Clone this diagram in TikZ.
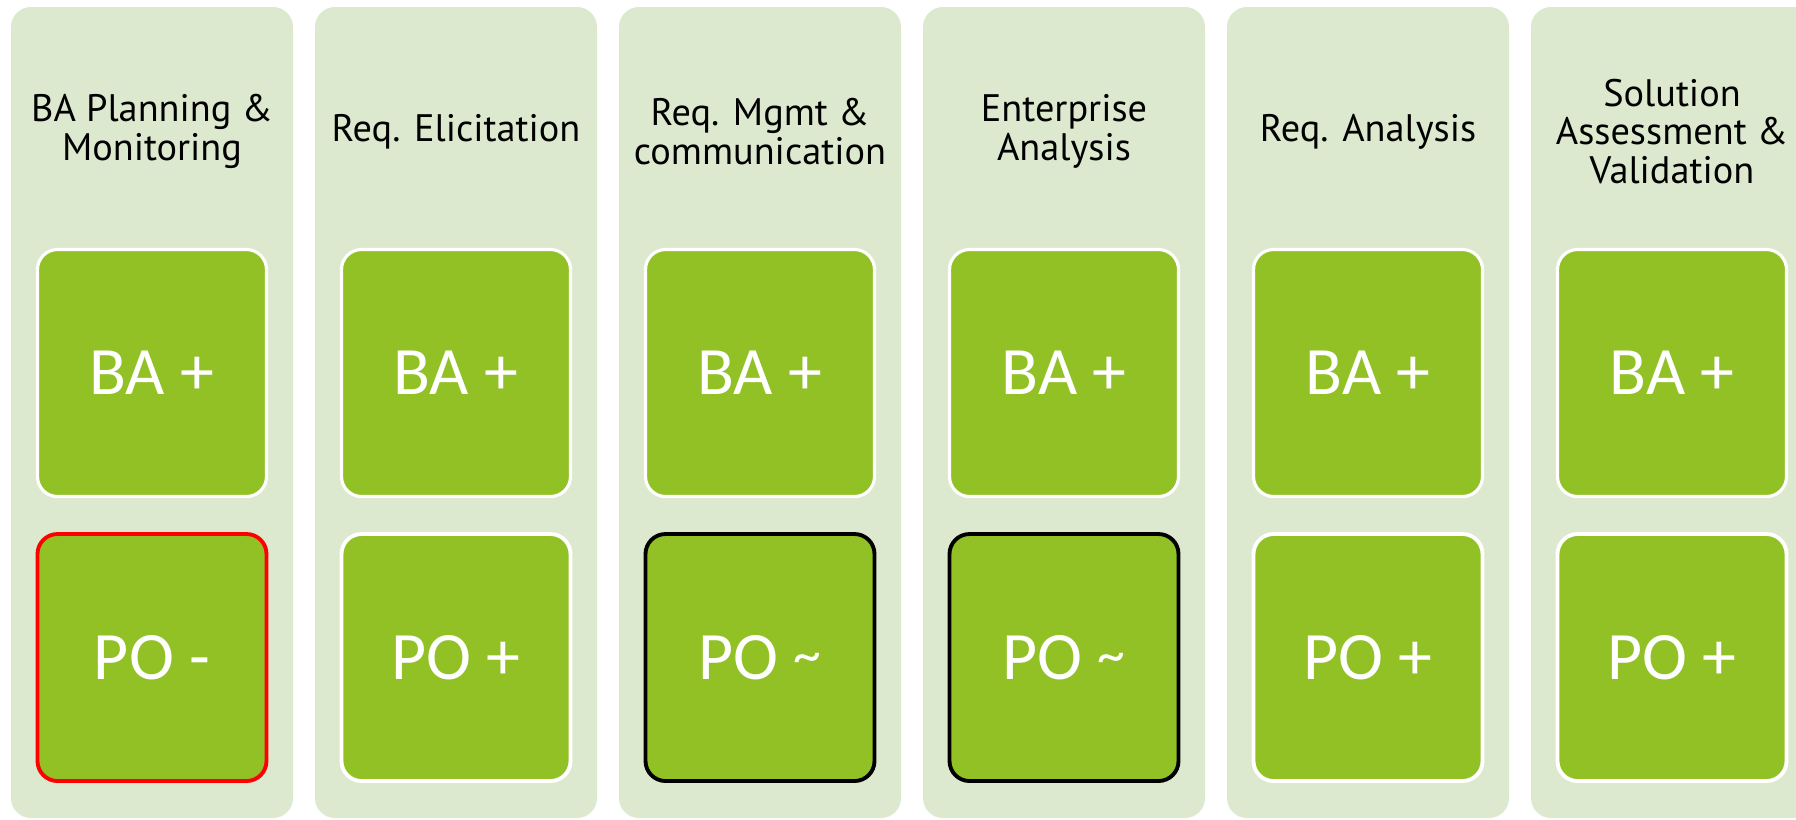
\documentclass[tikz,border=0pt]{standalone}
\usepackage{fontspec}
\setmainfont{PT Sans}
\newfontfamily\rolefont{Carlito}
\usepackage{graphicx}
\usepackage{tikz}
\usepackage{xcolor}
\definecolor{lanefill}{RGB}{220,233,207}
\definecolor{rolefill}{RGB}{146,193,38}
\newcommand{\smalltilde}{\raisebox{0.08em}{\scalebox{0.82}{\textasciitilde}}}
\tikzset{
	column/.style={rectangle, rounded corners=0.2cm, fill=lanefill, minimum width=2.82cm, minimum height=8.11cm, inner sep=0pt},
	heading/.style={align=center, inner sep=0pt, font=\fontsize{10.9}{10.9}\selectfont},
	role/.style={rectangle, rounded corners=0.2cm, fill=rolefill, draw=white, line width=0.9pt, minimum width=2.29cm, minimum height=2.47cm, text=white, font=\rolefont\fontsize{19.3}{24}\selectfont}
}

\begin{document}
\begin{tikzpicture}
	% page frame
	\useasboundingbox (0,0) rectangle (17.96,-8.19);
	% one column per knowledge area
	\foreach \n/\head/\po/\edge in {
		1/{BA Planning \&\\Monitoring}/-/red,
		2/{Req. Elicitation}/+/white,
		3/{Req. Mgmt \&\\communication}/\smalltilde/black,
		4/{Enterprise\\Analysis}/\smalltilde/black,
		5/{Req. Analysis}/+/white,
		6/{Solution\\Assessment \&\\Validation}/+/white} {
		\pgfmathsetmacro\x{1.52+3.04*(\n-1)}
		\node[column] (col\n) at (\x,-4.125) {};
		\node[heading] (head\n) at (\x,-1.315) {\head};
		% BA and PO boxes
		\node[role] (ba\n) at (\x,-3.73) {BA +};
		\node[role, draw=\edge, line width=1.1pt] (po\n) at (\x,-6.575) {PO \po};
	}
\end{tikzpicture}
\end{document}
